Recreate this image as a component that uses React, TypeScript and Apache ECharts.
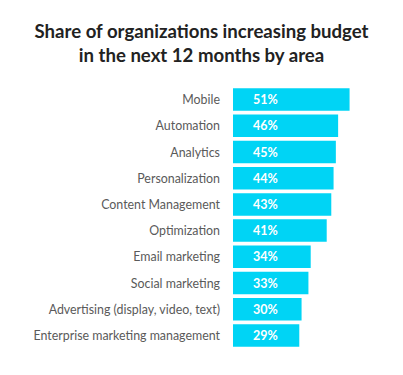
import React, { useEffect, useRef } from "react";
import * as echarts from "echarts";

const titleLines = ["Share of organizations increasing budget", "in the next 12 months by area"];
const categories = [
  "Mobile",
  "Automation",
  "Analytics",
  "Personalization",
  "Content Management",
  "Optimization",
  "Email marketing",
  "Social marketing",
  "Advertising (display, video, text)",
  "Enterprise marketing management",
];
const values = [51, 46, 45, 44, 43, 41, 34, 33, 30, 29];

export default function App() {
  const ref = useRef<HTMLDivElement>(null);
  useEffect(() => {
    if (!ref.current) return;
    const chart = echarts.init(ref.current, undefined, { renderer: "svg" });
    chart.setOption({
      animation: false,
      backgroundColor: "#ffffff",
      title: {
        text: titleLines.join("\n"),
        left: "center",
        top: 14,
        textStyle: {
          fontFamily: "Lato",
          fontSize: 18.6,
          fontWeight: 700,
          color: "#222222",
          lineHeight: 24,
        },
      },
      grid: { left: 233, right: 10, top: 86.5, bottom: 26.5, containLabel: false },
      xAxis: {
        type: "value",
        min: 0,
        max: 70,
        show: false,
      },
      yAxis: {
        type: "category",
        inverse: true,
        data: categories,
        axisLine: { show: false },
        axisTick: { show: false },
        axisLabel: {
          margin: 13,
          fontFamily: "Lato",
          fontSize: 12.4,
          color: "#5a5a5a",
        },
      },
      series: [
        {
          type: "bar",
          data: values,
          barCategoryGap: "14%",
          itemStyle: { color: "#00d4f5" },
          label: {
            show: true,
            position: "insideLeft",
            distance: 20,
            formatter: "{c}%",
            fontFamily: "Lato",
            fontSize: 12.5,
            fontWeight: 700,
            color: "#ffffff",
          },
        },
      ],
    });
    return () => chart.dispose();
  }, []);
  return <div ref={ref} style={{ width: 403, height: 375, position: "absolute", left: 0, top: 0 }} />;
}
